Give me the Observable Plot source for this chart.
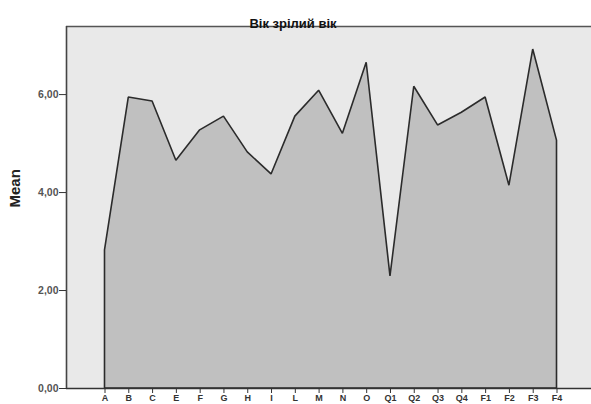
<!DOCTYPE html>
<html>
<head>
<meta charset="utf-8">
<script src="https://cdn.jsdelivr.net/npm/d3@7"></script>
<script src="https://cdn.jsdelivr.net/npm/@observablehq/plot@0.6"></script>
<style>
  html, body { margin: 0; padding: 0; background: white; overflow: hidden; }
  svg { display: block; }
</style>
</head>
<body>
<div id="chart"></div>
<script>
const categories = ["A","B","C","E","F","G","H","I","L","M","N","O","Q1","Q2","Q3","Q4","F1","F2","F3","F4"];
const means = [2.82, 5.94, 5.86, 4.65, 5.27, 5.55, 4.82, 4.37, 5.55, 6.08, 5.20, 6.65, 2.29, 6.16, 5.37, 5.63, 5.94, 4.14, 6.92, 5.06];
const yTicks = [0, 2, 4, 6];
const yMax = 7.39;
const title = "Вік зрілий вік";
const yLabel = "Mean";

const data = categories.map((c, i) => ({cat: c, mean: means[i]}));

const W = 591, ML = 66, MR = 0;

const chart = Plot.plot({
  width: W,
  height: 404,
  marginTop: 26,
  marginBottom: 16,
  marginLeft: ML,
  marginRight: MR,
  style: {fontFamily: "'Liberation Sans', Arial, sans-serif", background: "white", color: "#333"},
  x: {type: "point", domain: categories, range: [104.5, 556.5], padding: 0, round: false, label: null},
  y: {domain: [0, yMax], label: null},
  marks: [
    Plot.frame({fill: "#e9e9e9", stroke: null}),
    Plot.areaY(data, {x: "cat", y: "mean", fill: "#c0c0c0", stroke: "#2b2b2b", strokeWidth: 1.6, strokeLinejoin: "miter"}),
    Plot.ruleY([yMax], {stroke: "#555", strokeWidth: 1.5}),
    Plot.ruleY([0], {stroke: "#333", strokeWidth: 1.3}),
    Plot.ruleX([0], {x: null, dx: -(W - ML - MR) / 2, stroke: "#444", strokeWidth: 1.6}),
    Plot.axisY({ticks: yTicks, tickFormat: d => d.toFixed(2).replace(".", ","), tickSize: 7, tickPadding: 1, fontSize: 10.5, fontWeight: "bold", fill: "#555", stroke: "#333", label: null, style: {letterSpacing: "0.6px"}}),
    Plot.axisX({tickSize: 5, tickPadding: 1, fontSize: 9, fontWeight: "bold", fill: "#333", stroke: "#333", label: null}),
    Plot.text([title], {frameAnchor: "top", dx: -36, dy: -8, fontSize: 13, fontWeight: "bold", fill: "#111"}),
    Plot.text([yLabel], {frameAnchor: "left", rotate: -90, dx: -51, fontSize: 15, fontWeight: "bold", fill: "#222"})
  ]
});
document.getElementById("chart").appendChild(chart);
</script>
</body>
</html>
